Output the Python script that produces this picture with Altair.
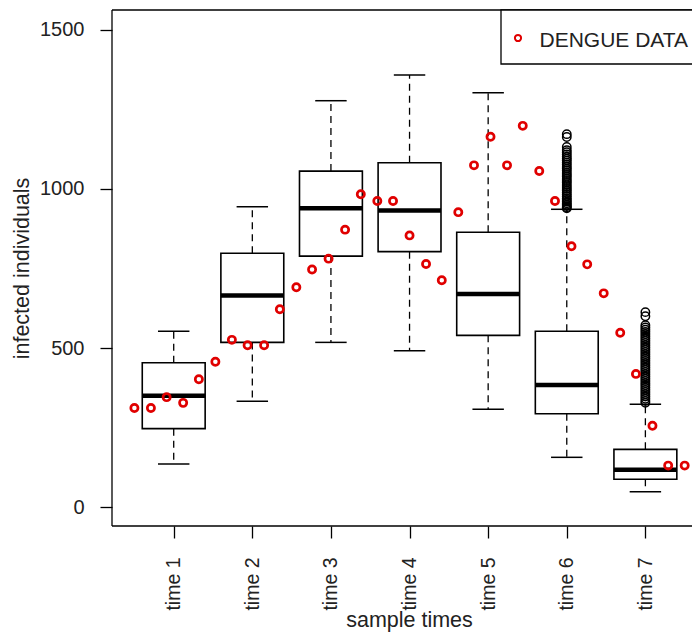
import json
import altair as alt
import pandas as pd

# ---- data ----
positions = [1, 2, 3, 4, 5, 6, 7]
tick_labels = ["time 1", "time 2", "time 3", "time 4", "time 5", "time 6", "time 7"]
upper_whisker = [553, 944, 1277, 1358, 1302, 936, 324]
q3 = [454, 798, 1056, 1082, 864, 553, 182]
median = [350, 665, 939, 932, 670, 384, 118]
q1 = [247, 518, 789, 803, 540, 294, 88]
lower_whisker = [136, 333, 518, 492, 308, 157, 49]

outliers_time6 = [1172, 1163, 1132, 1122, 1115, 1108, 1101, 1095, 1089, 1082, 1076, 1069,
                  1063, 1057, 1050, 1044, 1038, 1031, 1025, 1019, 1012, 1006, 1000, 994,
                  988, 982, 976, 970, 965, 960, 955, 950, 946, 942, 939]
outliers_time7 = [613, 600, 572, 565, 558, 551, 544, 537, 530, 523, 516, 509, 502, 495,
                  488, 481, 474, 467, 460, 453, 446, 439, 432, 425, 418, 411, 404, 397,
                  390, 383, 376, 369, 362, 355, 348, 341, 334, 328]

dengue_time = [0.50, 0.71, 0.91, 1.12, 1.32, 1.53, 1.74, 1.94, 2.15, 2.35, 2.56, 2.76,
               2.97, 3.18, 3.38, 3.59, 3.79, 4.00, 4.21, 4.41, 4.62, 4.82, 5.03, 5.24,
               5.44, 5.65, 5.85, 6.06, 6.26, 6.47, 6.68, 6.88, 7.09, 7.29, 7.50]
dengue_cases = [312, 312, 346, 328, 402, 457, 526, 509, 509, 622, 691, 747,
                781, 872, 983, 962, 962, 854, 764, 713, 927, 1074, 1164, 1074,
                1198, 1056, 962, 820, 763, 672, 548, 419, 256, 131, 131]

legend_label = "DENGUE DATA"

# ---- tables ----
boxes = pd.DataFrame({
    "pos": positions, "uw": upper_whisker, "q3": q3, "med": median,
    "q1": q1, "lw": lower_whisker,
})
outl = pd.DataFrame({
    "pos": [6] * len(outliers_time6) + [7] * len(outliers_time7),
    "val": outliers_time6 + outliers_time7,
})
dengue = pd.DataFrame({"t": dengue_time, "cases": dengue_cases})

W, H = 580, 516
FONT = "Liberation Sans"
TXT = "#222222"

xs = alt.Scale(domain=[0.215, 7.593], nice=False, zero=False)
ys = alt.Scale(domain=[-58.7, 1561.9], nice=False, zero=False)

x_axis = alt.Axis(
    values=positions,
    labelExpr=f"{json.dumps(tick_labels)}[datum.value - 1]",
    labelAngle=270, labelAlign="right", labelBaseline="middle",
    labelFont=FONT, labelFontSize=19.5, labelColor=TXT, labelPadding=19,
    labelOverlap=False, labelFlush=False,
    tickSize=12, tickColor="black", tickWidth=1.3,
    domain=False, grid=False,
    title="sample times", titleFont=FONT, titleFontSize=21.5, titleFontWeight="normal",
    titleColor=TXT, titleX=297, titleY=100, titleAlign="center", titleBaseline="alphabetic",
)
y_axis = alt.Axis(
    values=[0, 500, 1000, 1500], format="d",
    labelAngle=0, labelFont=FONT, labelFontSize=20, labelColor=TXT, labelPadding=16,
    labelOverlap=False, labelFlush=False,
    tickSize=12, tickColor="black", tickWidth=1.3,
    domain=False, grid=False,
    title="infected individuals", titleFont=FONT, titleFontSize=21.5,
    titleFontWeight="normal", titleColor=TXT, titleAngle=270,
    titleX=-84, titleY=258, titleAlign="center", titleBaseline="alphabetic",
)


def X(field):
    return alt.X(field, type="quantitative", scale=xs, axis=x_axis)


def Y(field):
    return alt.Y(field, type="quantitative", scale=ys, axis=y_axis)


base = alt.Chart(boxes).transform_calculate(
    left="datum.pos - 0.4", right="datum.pos + 0.4",
    capl="datum.pos - 0.2", capr="datum.pos + 0.2",
)

whisk_up = base.mark_rule(color="black", strokeWidth=1.3, strokeDash=[7, 5]).encode(
    x=X("pos"), y=Y("q3"), y2="uw")
whisk_lo = base.mark_rule(color="black", strokeWidth=1.3, strokeDash=[7, 5]).encode(
    x=X("pos"), y=Y("q1"), y2="lw")
cap_up = base.mark_rule(color="black", strokeWidth=1.5).encode(
    x=X("capl:Q"), x2="capr:Q", y=Y("uw"))
cap_lo = base.mark_rule(color="black", strokeWidth=1.5).encode(
    x=X("capl:Q"), x2="capr:Q", y=Y("lw"))
box_rect = base.mark_rect(fill="white", fillOpacity=0, stroke="black", strokeWidth=1.6).encode(
    x=X("left:Q"), x2="right:Q", y=Y("q1"), y2="q3")
med_line = base.mark_rule(color="black", strokeWidth=4.5).encode(
    x=X("left:Q"), x2="right:Q", y=Y("med"))

outlier_pts = alt.Chart(outl).mark_point(
    shape="circle", filled=False, color="black", size=70, strokeWidth=1.5, opacity=1
).encode(x=X("pos"), y=Y("val"))

dengue_pts = alt.Chart(dengue).mark_point(
    shape="circle", filled=False, color="#e00000", size=52, strokeWidth=2.7, opacity=1
).encode(x=X("t"), y=Y("cases"))

one = alt.Data(values=[{}])
frame_left = alt.Chart(one).mark_rule(color="black", strokeWidth=1.3).encode(
    x=alt.value(0), y=alt.value(0), y2=alt.value(H))
frame_top = alt.Chart(one).mark_rule(color="black", strokeWidth=1.3).encode(
    x=alt.value(0), x2=alt.value(W + 30), y=alt.value(0))
frame_bot = alt.Chart(one).mark_rule(color="black", strokeWidth=1.3).encode(
    x=alt.value(0), x2=alt.value(W + 30), y=alt.value(H))

leg_box = alt.Chart(one).mark_rect(fill="white", stroke="black", strokeWidth=1.3).encode(
    x=alt.value(389), x2=alt.value(W + 40), y=alt.value(0), y2=alt.value(54))
leg_sym = alt.Chart(one).mark_point(
    shape="circle", filled=False, color="#e00000", size=38, strokeWidth=2, opacity=1
).encode(x=alt.value(406), y=alt.value(28))
leg_txt = alt.Chart(one).mark_text(
    text=legend_label, font=FONT, fontSize=21, color=TXT, align="left", baseline="alphabetic"
).encode(x=alt.value(427.5), y=alt.value(36.7))

chart = alt.layer(
    whisk_up, whisk_lo, cap_up, cap_lo, box_rect, med_line,
    outlier_pts, dengue_pts,
    frame_left, frame_top, frame_bot,
    leg_box, leg_sym, leg_txt,
).properties(
    width=W, height=H,
    autosize=alt.AutoSizeParams(type="none"),
    padding={"left": 104, "top": 2, "right": 0, "bottom": 106},
    background="white",
).configure_view(stroke=None)

chart.save("out.html", embed_options={"renderer": "svg", "actions": False})
